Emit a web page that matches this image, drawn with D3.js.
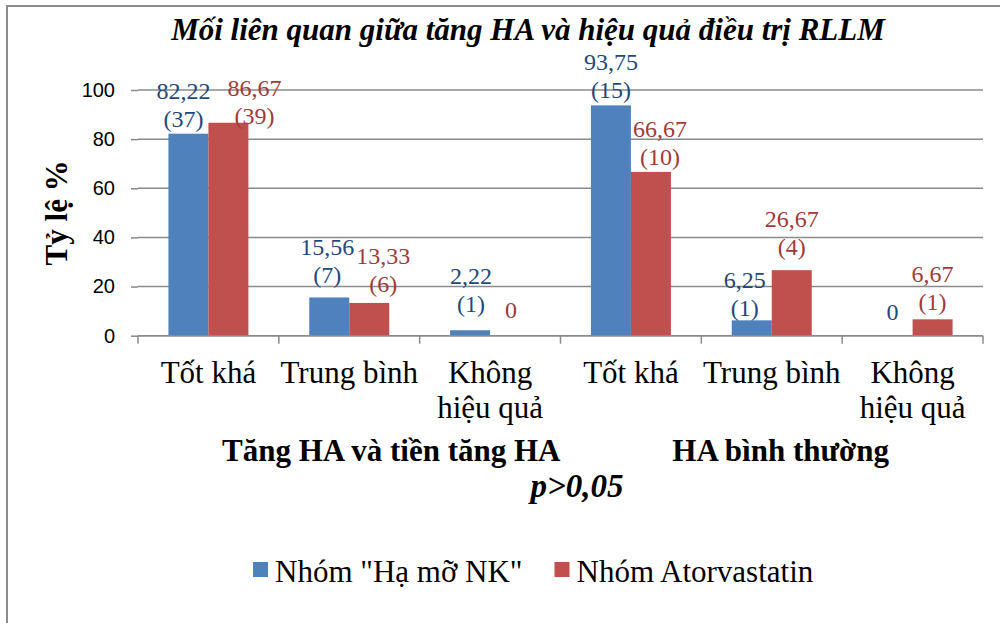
<!DOCTYPE html>
<html>
<head>
<meta charset="utf-8">
<script src="https://cdn.jsdelivr.net/npm/d3@7"></script>
<style>
  html, body { margin: 0; padding: 0; background: #ffffff; }
  svg { display: block; }
</style>
</head>
<body>
<svg id="chart" width="1000" height="623"></svg>
<script>
// ---------------- data ----------------
const titleText = "Mối liên quan giữa tăng HA và hiệu quả điều trị RLLM";
const yAxisTitle = "Tỷ lệ %";
const categories = ["Tốt khá", "Trung bình", "Không hiệu quả", "Tốt khá", "Trung bình", "Không hiệu quả"];
const categoryLines = [["Tốt khá"], ["Trung bình"], ["Không", "hiệu quả"], ["Tốt khá"], ["Trung bình"], ["Không", "hiệu quả"]];
const seriesNames = ['Nhóm "Hạ mỡ NK"', "Nhóm Atorvastatin"];
const valuesNK = [82.22, 15.56, 2.22, 93.75, 6.25, 0];
const valuesAtor = [86.67, 13.33, 0, 66.67, 26.67, 6.67];
const countsNK = [37, 7, 1, 15, 1, 0];
const countsAtor = [39, 6, 0, 10, 4, 1];
const yTicks = [0, 20, 40, 60, 80, 100];
const groupLabels = ["Tăng HA và tiền tăng HA", "HA bình thường"];
const pLabel = "p>0,05";

// label nudges (manual placement of data labels, in px)
const nudgeNK = [[-5, 1], [-2, -6], [1, -10], [0, 1], [-7, 4], [0, -8]];
const nudgeAtor = [[26, 9], [14, -3], [1, -10], [9, 1], [0, -7], [0, -1]];

// ---------------- styles ----------------
const colors = ["#4F81BD", "#C0504D"];
const labelColors = ["#1F497D", "#9E3B38"];
const serif = "'Liberation Serif', 'Times New Roman', 'DejaVu Serif', serif";
const sans = "'Liberation Sans', Arial, 'DejaVu Sans', sans-serif";
const gridColor = "#8a8a8a";

const svg = d3.select("#chart");

// outer frame (chart area border, cropped at right/bottom)
svg.append("rect")
  .attr("x", 7).attr("y", 6).attr("width", 1200).attr("height", 800)
  .attr("fill", "none").attr("stroke", "#8c8c8c").attr("stroke-width", 2);

const plot = { left: 138, right: 983, top: 90, bottom: 335.7 };

const x = d3.scaleBand()
  .domain(d3.range(categories.length))
  .range([plot.left, plot.right])
  .paddingInner(0.432)
  .paddingOuter(0.216);

const xs = d3.scaleBand().domain([0, 1]).range([0, x.bandwidth()]);

const y = d3.scaleLinear().domain([0, 100]).range([plot.bottom, plot.top]);

// gridlines
svg.append("g").selectAll("line").data(yTicks).join("line")
  .attr("x1", plot.left).attr("x2", plot.right)
  .attr("y1", d => y(d)).attr("y2", d => y(d))
  .attr("stroke", gridColor).attr("stroke-width", 1.5);

// y axis (ticks + labels, no domain line)
const yAxis = svg.append("g")
  .attr("transform", `translate(${plot.left},0)`)
  .call(d3.axisLeft(y).tickValues(yTicks).tickSize(7).tickPadding(16));
yAxis.select(".domain").remove();
yAxis.selectAll(".tick line").attr("stroke", gridColor).attr("stroke-width", 1.5);
yAxis.selectAll(".tick text")
  .attr("font-family", sans).attr("font-size", 20).attr("fill", "#000");

// y axis title
svg.append("text")
  .attr("transform", `translate(67,${(plot.top + plot.bottom) / 2}) rotate(-90)`)
  .attr("text-anchor", "middle")
  .attr("font-family", serif).attr("font-weight", "bold").attr("font-size", 31)
  .text(yAxisTitle);

// bars
const series = [valuesNK, valuesAtor];
const counts = [countsNK, countsAtor];
const nudges = [nudgeNK, nudgeAtor];

series.forEach((vals, s) => {
  svg.append("g").selectAll("rect").data(vals).join("rect")
    .attr("x", (d, i) => x(i) + xs(s))
    .attr("width", xs.bandwidth())
    .attr("y", d => y(d))
    .attr("height", d => y(0) - y(d))
    .attr("fill", colors[s]);
});

// x axis line + boundary ticks
const xAxisG = svg.append("g");
xAxisG.append("line")
  .attr("x1", plot.left).attr("x2", plot.right)
  .attr("y1", y(0)).attr("y2", y(0))
  .attr("stroke", gridColor).attr("stroke-width", 1.5);
const boundaries = d3.range(categories.length + 1).map(i => plot.left + i * x.step());
xAxisG.selectAll("line.tk").data(boundaries).join("line")
  .attr("class", "tk")
  .attr("x1", d => d).attr("x2", d => d)
  .attr("y1", y(0)).attr("y2", y(0) + 8)
  .attr("stroke", gridColor).attr("stroke-width", 1.5);

// data labels
const fmt = v => String(v).replace(".", ",");
series.forEach((vals, s) => {
  vals.forEach((v, i) => {
    const cx = x(i) + xs(s) + xs.bandwidth() / 2 + nudges[s][i][0];
    const base = y(v) - 8 + nudges[s][i][1];
    const lines = v === 0 ? [fmt(v)] : [fmt(v.toFixed(2)), `(${counts[s][i]})`];
    const t = svg.append("text")
      .attr("text-anchor", "middle")
      .attr("font-family", serif).attr("font-size", 24)
      .attr("fill", labelColors[s]);
    lines.forEach((ln, k) => {
      t.append("tspan")
        .attr("x", cx)
        .attr("y", base - (lines.length - 1 - k) * 28)
        .text(ln);
    });
  });
});

// category labels
categoryLines.forEach((lines, i) => {
  const cx = x(i) + x.bandwidth() / 2;
  const t = svg.append("text")
    .attr("text-anchor", "middle")
    .attr("font-family", serif).attr("font-size", 31).attr("fill", "#000");
  lines.forEach((ln, k) => {
    t.append("tspan").attr("x", cx).attr("y", 383 + k * 35).text(ln);
  });
});

// group labels (x axis title)
svg.append("text")
  .attr("x", 222).attr("y", 461)
  .attr("font-family", serif).attr("font-weight", "bold").attr("font-size", 31)
  .text(groupLabels[0]);
svg.append("text")
  .attr("x", 889).attr("y", 461).attr("text-anchor", "end")
  .attr("font-family", serif).attr("font-weight", "bold").attr("font-size", 31)
  .text(groupLabels[1]);
svg.append("text")
  .attr("x", 577).attr("y", 497).attr("text-anchor", "middle")
  .attr("font-family", serif).attr("font-weight", "bold").attr("font-style", "italic").attr("font-size", 33)
  .text(pLabel);

// title
svg.append("text")
  .attr("x", 528).attr("y", 40).attr("text-anchor", "middle")
  .attr("font-family", serif).attr("font-weight", "bold").attr("font-style", "italic").attr("font-size", 31)
  .text(titleText);

// legend
const legend = svg.append("g");
let lx = 253;
seriesNames.forEach((name, s) => {
  legend.append("rect")
    .attr("x", lx).attr("y", 562).attr("width", 15).attr("height", 15)
    .attr("fill", colors[s]);
  const t = legend.append("text")
    .attr("x", lx + 22).attr("y", 582)
    .attr("font-family", serif).attr("font-size", 31).attr("fill", "#000")
    .text(name);
  lx = lx + 22 + t.node().getComputedTextLength() + 32;
});
</script>
</body>
</html>
